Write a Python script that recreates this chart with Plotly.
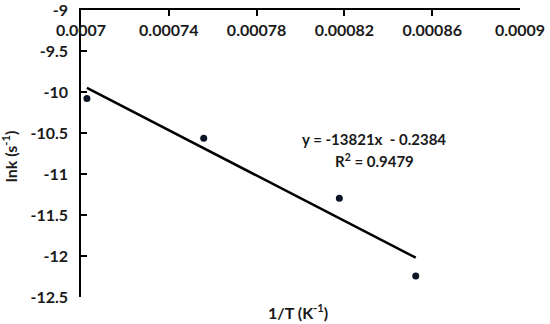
import plotly.graph_objects as go

# Data
inv_T = [0.0007027, 0.0007559, 0.0008177, 0.0008525]
ln_k = [-10.08, -10.565, -11.296, -12.244]

# Trendline coefficients (as shown in chart)
slope = -13821
intercept = -0.2384
r2 = 0.9479

x_ticks = [0.0007, 0.00074, 0.00078, 0.00082, 0.00086, 0.0009]
x_tick_labels = ["0.0007", "0.00074", "0.00078", "0.00082", "0.00086", "0.0009"]
y_ticks = [-9, -9.5, -10, -10.5, -11, -11.5, -12, -12.5]
y_tick_labels = ["-9", "-9.5", "-10", "-10.5", "-11", "-11.5", "-12", "-12.5"]

FONT = "Lato"
TXT = "#1a1a1a"
FS = 16

trend_x = [min(inv_T), max(inv_T)]
trend_y = [slope * x + intercept for x in trend_x]

fig = go.Figure()
fig.add_trace(go.Scatter(x=trend_x, y=trend_y, mode="lines",
                         line=dict(color="black", width=2.5), showlegend=False))
fig.add_trace(go.Scatter(x=inv_T, y=ln_k, mode="markers",
                         marker=dict(color="#0b1524", size=7), showlegend=False))

fig.update_layout(
    width=550, height=324,
    margin=dict(l=81, r=30, t=10, b=27, autoexpand=False),
    paper_bgcolor="white", plot_bgcolor="white",
    font=dict(family=FONT, size=FS, color=TXT, weight="bold"),
    xaxis=dict(range=[0.0007, 0.0009], side="top", showgrid=False, zeroline=False,
               automargin=False,
               showline=True, linecolor="black", linewidth=1.5,
               ticks="inside", ticklen=6, tickwidth=1.5, tickcolor="black",
               tickvals=x_ticks, ticktext=x_tick_labels,
               ticklabelposition="inside", ticklabeloverflow="allow",
               ticklabelstandoff=9,
               tickfont=dict(family=FONT, size=FS, color=TXT, weight="bold")),
    yaxis=dict(range=[-12.5, -9], showgrid=False, zeroline=False,
               automargin=False,
               showline=True, linecolor="black", linewidth=1.5,
               ticks="inside", ticklen=6, tickwidth=1.5, tickcolor="black",
               tickvals=y_ticks, ticktext=y_tick_labels,
               ticklabelstandoff=8, ticklabeloverflow="allow",
               tickfont=dict(family=FONT, size=FS, color=TXT, weight="bold")),
    annotations=[
        dict(x=0.495, y=-0.05, xref="paper", yref="paper", xanchor="center", yanchor="middle",
             text="1/T (K<sup>-1</sup>)", showarrow=False,
             font=dict(family=FONT, size=FS, color=TXT, weight="bold")),
        dict(x=-0.162, y=0.49, xref="paper", yref="paper", xanchor="center", yanchor="middle",
             text="lnk (s<sup>-1</sup>)", textangle=-90, showarrow=False,
             font=dict(family=FONT, size=FS, color=TXT, weight="bold")),
        dict(x=0.0008335, y=-10.57, xref="x", yref="y", xanchor="center", yanchor="middle",
             text=f"y = {slope}x  - {abs(intercept)}", showarrow=False,
             font=dict(family=FONT, size=15, color=TXT, weight="bold")),
        dict(x=0.0008335, y=-10.84, xref="x", yref="y", xanchor="center", yanchor="middle",
             text=f"R<sup>2</sup> = {r2}", showarrow=False,
             font=dict(family=FONT, size=15, color=TXT, weight="bold")),
    ],
)

fig.write_html("out.html", config={"displayModeBar": False},
               post_script="document.body.style.margin='0';")
